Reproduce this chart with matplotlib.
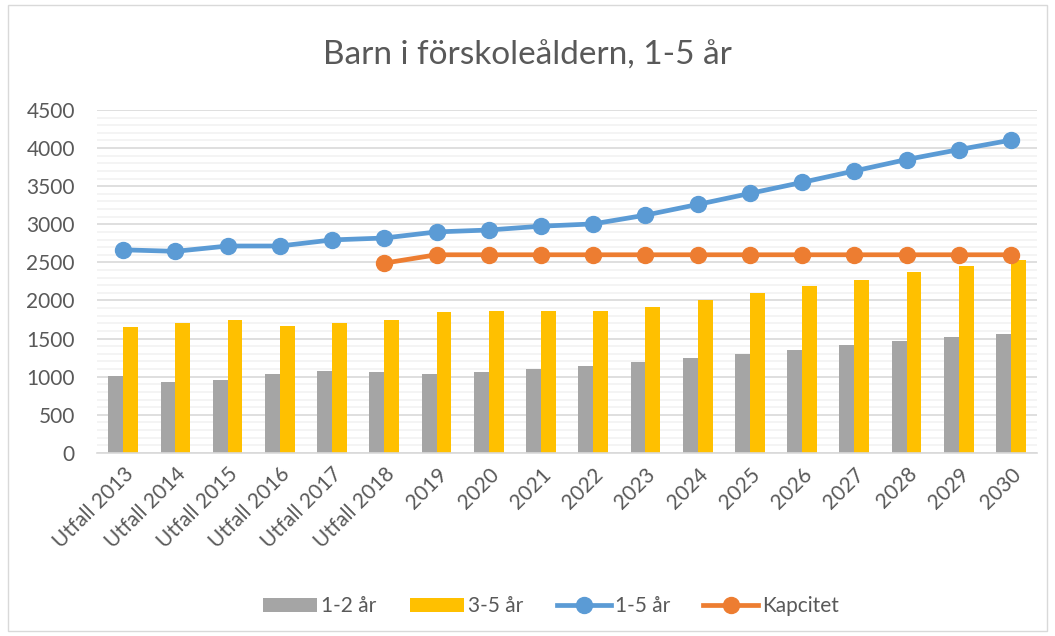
import numpy as np
import matplotlib
matplotlib.use("Agg")
import matplotlib.pyplot as plt
from matplotlib.patches import Rectangle
from matplotlib.ticker import MultipleLocator

plt.rcParams['font.family'] = ['Lato', 'DejaVu Sans']

categories = ['Utfall 2013', 'Utfall 2014', 'Utfall 2015', 'Utfall 2016', 'Utfall 2017',
              'Utfall 2018', '2019', '2020', '2021', '2022', '2023', '2024', '2025',
              '2026', '2027', '2028', '2029', '2030']
ar_1_2 = [1010, 935, 960, 1035, 1075, 1065, 1040, 1060, 1100, 1140, 1190, 1240, 1295,
          1350, 1410, 1465, 1520, 1560]
ar_3_5 = [1650, 1700, 1750, 1665, 1710, 1740, 1855, 1860, 1860, 1860, 1915, 2010, 2095,
          2185, 2275, 2370, 2450, 2530]
ar_1_5 = [2665, 2645, 2715, 2715, 2795, 2820, 2900, 2925, 2975, 3005, 3120, 3260, 3405,
          3550, 3700, 3850, 3980, 4105]
kapacitet = [None, None, None, None, None, 2490, 2600, 2600, 2600, 2600, 2600, 2600, 2600,
             2600, 2600, 2600, 2600, 2600]

fig = plt.figure(figsize=(10.55, 6.36), dpi=100)
ax = fig.add_axes([0.092, 0.288, 0.891, 0.539])

x = np.arange(len(categories))
w = 0.285
b1 = ax.bar(x - w / 2, ar_1_2, w, color='#A5A5A5', label='1-2 år', zorder=2)
b2 = ax.bar(x + w / 2, ar_3_5, w, color='#FFC000', label='3-5 år', zorder=2)
l1, = ax.plot(x, ar_1_5, color='#5B9BD5', lw=3.4, marker='o', ms=11.5, label='1-5 år', zorder=3)
kap = np.array([np.nan if v is None else v for v in kapacitet], dtype=float)
l2, = ax.plot(x, kap, color='#ED7D31', lw=3.4, marker='o', ms=11.5, label='Kapcitet', zorder=3)

ax.set_xlim(-0.5, len(categories) - 0.5)
ax.set_ylim(0, 4500)
ax.yaxis.set_major_locator(MultipleLocator(500))
ax.yaxis.set_minor_locator(MultipleLocator(100))
ax.grid(axis='y', which='major', color='#D9D9D9', lw=1.2, zorder=0)
ax.grid(axis='y', which='minor', color='#F2F2F2', lw=1.2, zorder=0)
ax.set_axisbelow(True)
for s in ['top', 'right', 'left']:
    ax.spines[s].set_visible(False)
ax.spines['bottom'].set_color('#D9D9D9')
ax.spines['bottom'].set_linewidth(1.2)
ax.tick_params(axis='both', which='both', length=0, colors='#595959', labelsize=15)
ax.tick_params(axis='y', pad=16)
ax.set_xticks(x)
ax.set_xticklabels(categories, rotation=45, ha='right', rotation_mode='anchor')
ax.tick_params(axis='x', pad=8)

fig.text(0.5, 0.913, 'Barn i förskoleåldern, 1-5 år', ha='center', va='center',
         fontsize=24, color='#595959')

leg = fig.legend([b1, b2, l1, l2], ['1-2 år', '3-5 år', '1-5 år', 'Kapcitet'],
                 loc='center', bbox_to_anchor=(0.522, 0.047), ncol=4, frameon=False,
                 fontsize=15, handlelength=2.6, columnspacing=1.6, handletextpad=0.2)
for t in leg.get_texts():
    t.set_color('#595959')

fig.patches.append(Rectangle((0.008, 0.008), 0.984, 0.984, transform=fig.transFigure,
                             fill=False, edgecolor='#D9D9D9', lw=1))

fig.savefig('out.png', dpi=100)
